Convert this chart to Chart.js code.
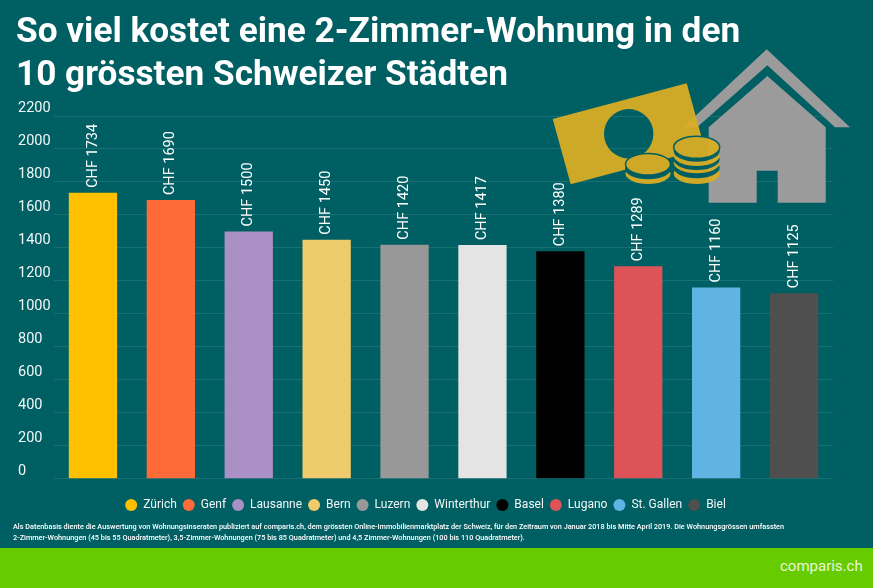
<!DOCTYPE html>
<html lang="de"><head><meta charset="utf-8">
<script src="https://cdn.jsdelivr.net/npm/chart.js@4"></script>
<style>
html,body{margin:0;padding:0;background:#005f63;width:873px;height:588px;overflow:hidden;font-family:Roboto,sans-serif}
#wrap{position:relative;width:873px;height:588px}
canvas{position:absolute;left:0;top:0}
#title{position:absolute;left:16px;top:9px;margin:0;font:700 35.2px/43px Roboto,sans-serif;color:#fff;white-space:nowrap}
#note{position:absolute;left:13px;top:521px;font:500 7.3px/11.2px Roboto,sans-serif;color:#fff;white-space:nowrap}
#foot{position:absolute;left:0;top:548px;width:873px;height:40px;background:#66cc00}
#logo{position:absolute;left:780px;top:6px;font:400 15px/24px Roboto,sans-serif;color:#e9f7d9}
svg{position:absolute;left:0;top:0}
</style></head><body><div id="wrap">
<canvas id="c" width="873" height="588"></canvas>
<svg width="873" height="588" viewBox="0 0 873 588">
<path fill="#9b9b9b" d="M766.7 49.3 850 127.3H835L767.3 65.3 697 127.3H683.3Z"/>
<path fill="#9b9b9b" d="M767.3 76 825.7 127.3V202.7H777.7V170.7H756.7V202.7H708.7V127.3Z"/>
<g opacity=".94">
<path fill="#dbae24" fill-rule="evenodd" d="M552.7 119 686.7 83.3 704.7 148.6 570.7 184.3ZM653.4 133.7a24.7 24.7 0 1 0-49.4 0a24.7 24.7 0 1 0 49.4 0Z"/>
<g fill="#dbae24">
<ellipse cx="648" cy="173.5" rx="22.5" ry="10.5"/><ellipse fill="#005f63" cx="648" cy="168.8" rx="23" ry="10.5"/>
<ellipse cx="648" cy="164.2" rx="22.5" ry="10.8" stroke="#005f63" stroke-width="1.5"/>
<ellipse cx="696.7" cy="173.5" rx="23" ry="10.5"/><ellipse fill="#005f63" cx="696.7" cy="167.8" rx="23" ry="10.5"/>
<ellipse cx="696.7" cy="162.8" rx="23" ry="10.5"/><ellipse fill="#005f63" cx="696.7" cy="159.5" rx="23" ry="10.5"/>
<ellipse cx="696.7" cy="155.5" rx="23" ry="10.5"/><ellipse fill="#005f63" cx="696.7" cy="151.2" rx="23" ry="10.5"/>
<ellipse cx="696.7" cy="147.3" rx="23" ry="11" stroke="#005f63" stroke-width="1.5"/>
</g></g>
<path d="M788 567l2 2 3.5-5" fill="none" stroke="#e9f7d9" stroke-width="1.1"/>
</svg>
<h1 id="title">So viel kostet eine 2-Zimmer-Wohnung in den<br>10 grössten Schweizer Städten</h1>
<div id="note">Als Datenbasis diente die Auswertung von Wohnungsinseraten publiziert auf comparis.ch, dem grössten Online-Immobilienmarktplatz der Schweiz, für den Zeitraum von Januar 2018 bis Mitte April 2019. Die Wohnungsgrössen umfassten<br>2-Zimmer-Wohnungen (45 bis 55 Quadratmeter), 3,5-Zimmer-Wohnungen (75 bis 85 Quadratmeter) und 4,5 Zimmer-Wohnungen (100 bis 110 Quadratmeter).</div>
<div id="foot"><div id="logo">comparis.ch</div></div>
</div>
<script>
const cities = ["Zürich","Genf","Lausanne","Bern","Luzern","Winterthur","Basel","Lugano","St. Gallen","Biel"];
const rents = [1734,1690,1500,1450,1420,1417,1380,1289,1160,1125];
const barColors = ["#ffc000","#ff6a39","#aa90c5","#eecb6c","#989898","#e4e4e4","#000000","#dd5358","#5fb4e4","#4f4f4f"];
const yMax = 2200, yStep = 200;

const barLabels = {
  id:"barLabels",
  afterDatasetsDraw(chart){
    const ctx = chart.ctx;
    chart.getDatasetMeta(0).data.forEach((el,i)=>{
      ctx.save();
      ctx.translate(el.x, el.y-5);
      ctx.rotate(-Math.PI/2);
      ctx.font = "400 14.5px Roboto, sans-serif";
      ctx.fillStyle = "#fff";
      ctx.textAlign = "left";
      ctx.textBaseline = "middle";
      ctx.fillText("CHF "+rents[i], 0, 0);
      ctx.restore();
    });
  }
};

new Chart(document.getElementById("c"),{
  type:"bar",
  data:{labels:cities,datasets:[{data:rents,backgroundColor:barColors,categoryPercentage:1,barPercentage:.62,borderWidth:0}]},
  plugins:[barLabels],
  options:{
    responsive:false,animation:false,
    layout:{padding:{left:18,right:40,top:116,bottom:67}},
    plugins:{
      tooltip:{enabled:false},
      title:{display:false},
      legend:{position:"bottom",align:"center",
        title:{display:true,text:"",font:{size:1},padding:{top:5,bottom:0}},
        labels:{color:"#f2f7f7",font:{family:"Roboto",size:12},usePointStyle:true,pointStyle:"circle",boxWidth:12,boxHeight:8.5,pointStyleWidth:12,padding:6,
          generateLabels:()=>cities.map((n,i)=>({text:n,fillStyle:barColors[i],strokeStyle:barColors[i],lineWidth:0,pointStyle:"circle",fontColor:"#f2f7f7",index:i}))}}
    },
    scales:{
      x:{grid:{display:false},border:{display:false},ticks:{display:false}},
      y:{min:0,max:yMax,
        afterFit(s){s.width=36;},
        border:{display:false},
        grid:{color:"rgba(255,255,255,.1)",lineWidth:1,tickLength:0},
        ticks:{stepSize:yStep,color:"#f2f7f7",crossAlign:"far",padding:0,autoSkip:false,
          font:{family:"Roboto",size:14.5,lineHeight:1},
          callback:v=>[String(v),""]}
      }
    }
  }
});
</script></body></html>
